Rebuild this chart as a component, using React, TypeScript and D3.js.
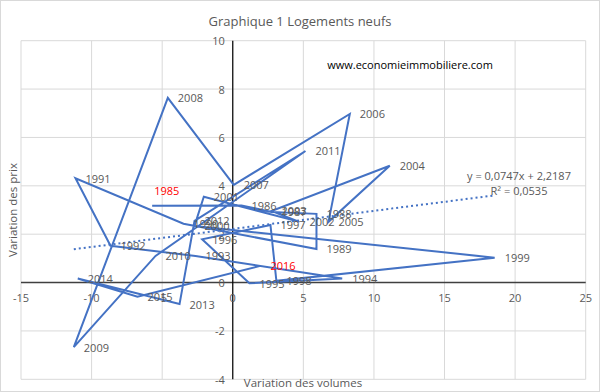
import React from "react";
import * as d3 from "d3";

const years = [1985,1986,1987,1988,1989,1990,1991,1992,1993,1994,1995,1996,1997,1998,1999,2000,2001,2002,2003,2004,2005,2006,2007,2008,2009,2010,2011,2012,2013,2014,2015,2016];
const volumes = [-5.71,0.62,2.74,5.93,5.93,-3.49,-11.14,-8.66,-2.64,7.75,1.18,-2.17,2.67,3.09,18.55,-2.71,-2.05,4.72,2.74,11.12,6.78,8.29,0.07,-4.6,-11.26,-5.47,5.15,-2.71,-3.77,-10.98,-6.75,1.96];
const prices = [3.18,3.19,2.92,2.84,1.39,2.43,4.31,1.52,1.1,0.17,-0.03,1.79,2.38,0.07,1.03,2.34,3.55,2.51,2.96,4.83,2.51,6.97,4.04,7.64,-2.67,1.1,5.44,2.55,-0.89,0.17,-0.59,0.69];
const highlighted = [1985, 2016];
const xTicks = [-15,-10,-5,0,5,10,15,20,25];
const yTicks = [-4,-2,0,2,4,6,8,10];
const slope = 0.0747;
const intercept = 2.2187;
const eqText = "y = 0,0747x + 2,2187";
const r2Text = "R² = 0,0535";
const title = "Graphique 1 Logements neufs";
const siteText = "www.economieimmobiliere.com";
const xTitle = "Variation des volumes";
const yTitle = "Variation des prix";

const W = 600, H = 392;
const L = 21, R = 585.7, T = 40.7, B = 379.3;
const FONT = "'Open Sans', sans-serif";
const GRAY = "#595959";
const BLUE = "#4472C4";

export default function App() {
  const x = d3.scaleLinear().domain([-15, 25]).range([L, R]);
  const y = d3.scaleLinear().domain([-4, 10]).range([B, T]);
  const pts = years.map((yr, i) => ({ yr, vx: volumes[i], vy: prices[i] }));
  const line = d3.line<any>().x(d => x(d.vx)).y(d => y(d.vy));
  const xmin = d3.min(volumes)!, xmax = d3.max(volumes)!;
  return (
    <svg width={W} height={H} style={{ position: "absolute", left: 0, top: 0, background: "#fff" }}>
      <rect x={0.5} y={0.5} width={W - 1} height={H - 1} fill="#fff" stroke="#d9d9d9" />
      <text x={300} y={21} textAnchor="middle" dominantBaseline="central" fontFamily={FONT} fontSize={13} fill={GRAY}>{title}</text>
      {xTicks.map(t => (
        <line key={"gx" + t} x1={x(t)} x2={x(t)} y1={T} y2={B} stroke="#d9d9d9" strokeWidth={1} />
      ))}
      {yTicks.map(t => (
        <line key={"gy" + t} x1={L} x2={R} y1={y(t)} y2={y(t)} stroke="#d9d9d9" strokeWidth={1} />
      ))}
      <line x1={L} x2={R} y1={y(0)} y2={y(0)} stroke="#404040" strokeWidth={1.5} />
      <line x1={x(0)} x2={x(0)} y1={T} y2={B} stroke="#000" strokeWidth={1.2} />
      {xTicks.map(t => (
        <text key={"tx" + t} x={x(t)} y={y(0) + 15} textAnchor="middle" dominantBaseline="central" fontFamily={FONT} fontSize={11} fill={GRAY}>{t}</text>
      ))}
      {yTicks.map(t => (
        <text key={"ty" + t} x={x(0) - 8} y={y(t)} textAnchor="end" dominantBaseline="central" fontFamily={FONT} fontSize={11} fill={GRAY}>{t}</text>
      ))}
      <text x={410} y={64} textAnchor="middle" dominantBaseline="central" fontFamily={FONT} fontSize={11} fill="#000">{siteText}</text>
      <path d={line(pts) || ""} fill="none" stroke={BLUE} strokeWidth={2} strokeLinejoin="miter" />
      <line x1={x(xmin)} x2={x(xmax)} y1={y(slope * xmin + intercept)} y2={y(slope * xmax + intercept)} stroke={BLUE} strokeWidth={2} strokeDasharray="2,3" />
      {pts.map(p => {
        const red = highlighted.includes(p.yr);
        const custom = p.yr === 1985;
        return (
          <text key={"l" + p.yr} x={x(p.vx) + (custom ? 2 : 10)} y={y(p.vy) + (custom ? -15 : 0)} dominantBaseline="central" fontFamily={FONT} fontSize={11} fill={red ? "#FF0000" : GRAY}>{p.yr}</text>
        );
      })}
      <text x={519} y={175} textAnchor="middle" dominantBaseline="central" fontFamily={FONT} fontSize={11} fill={GRAY}>{eqText}</text>
      <text x={519} y={190} textAnchor="middle" dominantBaseline="central" fontFamily={FONT} fontSize={11} fill={GRAY}>{r2Text}</text>
      <text x={303} y={382} textAnchor="middle" dominantBaseline="central" fontFamily={FONT} fontSize={11.5} fill={GRAY}>{xTitle}</text>
      <text transform={`translate(12,${(T + B) / 2}) rotate(-90)`} textAnchor="middle" dominantBaseline="central" fontFamily={FONT} fontSize={11.5} fill={GRAY}>{yTitle}</text>
    </svg>
  );
}
